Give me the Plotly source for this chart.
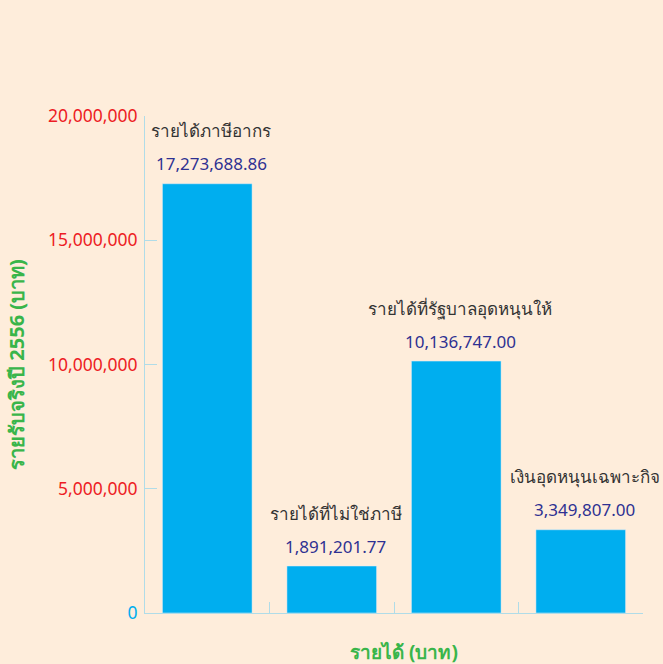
import plotly.graph_objects as go

categories = ["รายได้ภาษีอากร", "รายได้ที่ไม่ใช่ภาษี", "รายได้ที่รัฐบาลอุดหนุนให้", "เงินอุดหนุนเฉพาะกิจ"]
values = [17273688.86, 1891201.77, 10136747.00, 3349807.00]
tick_vals = [0, 5000000, 10000000, 15000000, 20000000]
tick_text = ["0", "5,000,000", "10,000,000", "15,000,000", "20,000,000"]
tick_colors = ["#00AEEF", "#ED1C24", "#ED1C24", "#ED1C24", "#ED1C24"]

BG = "#FEEDDB"
FONT = "Noto Sans, sans-serif"

fig = go.Figure(go.Bar(
    x=categories, y=values, marker_color="#00AEEF", width=0.72,
    hoverinfo="x+y",
))

for c, v in zip(categories, values):
    fig.add_annotation(x=c, y=v, text=f"{v:,.2f}", showarrow=False, yshift=20, xshift=4,
                       font=dict(size=17, color="#2E3192", family=FONT))
    fig.add_annotation(x=c, y=v, text=c, showarrow=False, yshift=53, xshift=4,
                       font=dict(size=17, color="#333333", family=FONT))

fig.add_annotation(xref="paper", yref="paper", x=0.52, y=0, yshift=-39, yanchor="middle",
                   text="<b>รายได้ (บาท)</b>", showarrow=False,
                   font=dict(size=19, color="#39B54A", family=FONT))

fig.update_layout(
    width=663, height=664,
    paper_bgcolor=BG, plot_bgcolor=BG,
    margin=dict(l=145, r=20, t=116, b=51),
    showlegend=False,
    font=dict(family=FONT),
)
fig.update_yaxes(
    range=[0, 20000000], tickvals=tick_vals,
    ticktext=[f"<span style='color:{col}'>{t}</span>" for t, col in zip(tick_text, tick_colors)],
    tickfont=dict(size=17.5, color="#ED1C24", family=FONT),
    showgrid=False, zeroline=False, showline=True, linecolor="#B0DCE8", linewidth=1,
    ticks="inside", ticklen=12, tickcolor="#B0DCE8", ticklabelstandoff=3,
    title=dict(text="<b>รายรับจริงปี 2556 (บาท)</b>", font=dict(size=20, color="#39B54A", family=FONT), standoff=18),
)
fig.update_xaxes(
    range=[-0.5, 3.5],
    showticklabels=False, showgrid=False, showline=True, linecolor="#B0DCE8", linewidth=1,
    ticks="inside", ticklen=11, tickcolor="#B0DCE8", tickson="boundaries",
)

fig.write_html(
    "out.html",
    config={"displayModeBar": False},
    post_script=f"document.body.style.margin='0';document.body.style.background='{BG}';document.body.style.overflow='hidden';",
)
